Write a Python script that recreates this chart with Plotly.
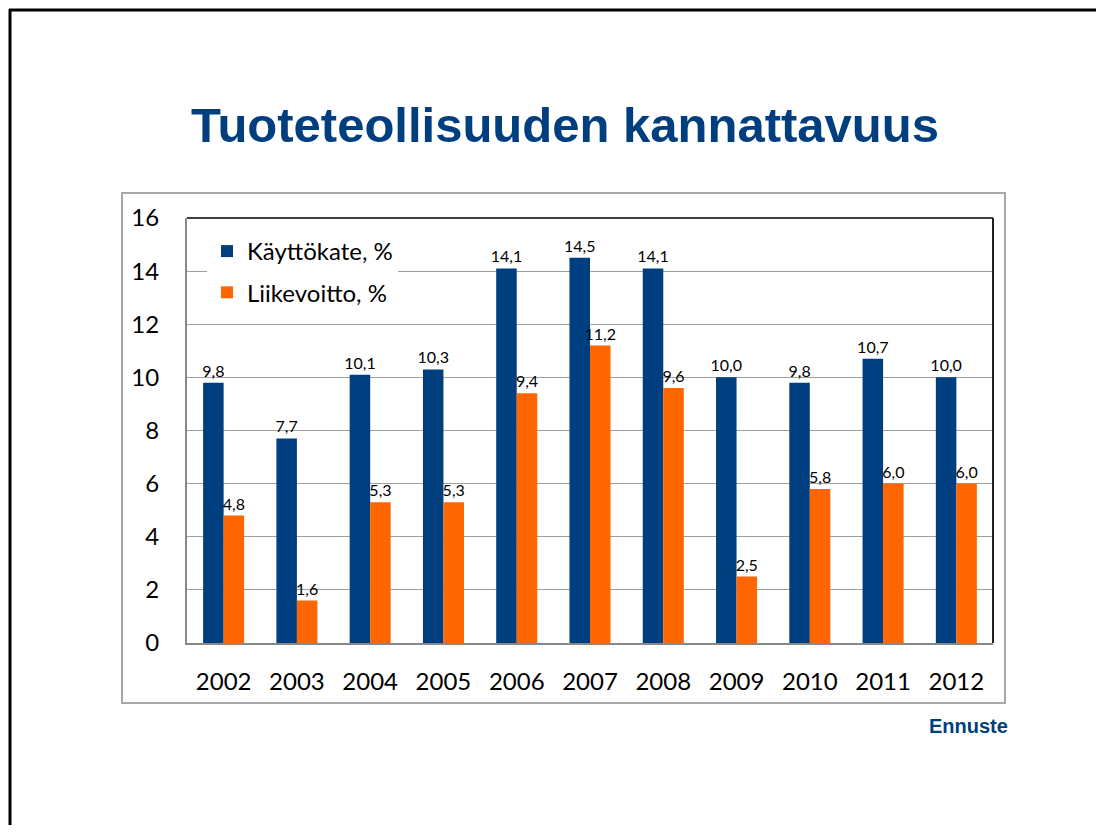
import plotly.graph_objects as go

years = ["2002", "2003", "2004", "2005", "2006", "2007", "2008", "2009", "2010", "2011", "2012"]
kayttokate = [9.8, 7.7, 10.1, 10.3, 14.1, 14.5, 14.1, 10.0, 9.8, 10.7, 10.0]
liikevoitto = [4.8, 1.6, 5.3, 5.3, 9.4, 11.2, 9.6, 2.5, 5.8, 6.0, 6.0]
series_names = ["Käyttökate, %", "Liikevoitto, %"]
colors = ["#003f7f", "#ff6600"]

# page has an 8px body margin, so the figure is 16px smaller than the window
OFF = 8
W, H = 1104 - 2 * OFF, 833 - 2 * OFF
FONT = "Lato, Open Sans, sans-serif"

def px(x):
    return (x - OFF) / W

def py(y):
    return 1 - (y - OFF) / H

def fmt(v):
    return f"{v:.1f}".replace(".", ",")

fig = go.Figure()
for i, (name, vals, col) in enumerate(zip(series_names, [kayttokate, liikevoitto], colors)):
    fig.add_trace(go.Bar(
        x=years, y=vals, name=name, marker_color=col, marker_line_width=0,
        legendgroup=f"g{i}",
        text=[fmt(v) for v in vals], textposition="outside",
        textfont=dict(family=FONT, size=16, color="black"),
        constraintext="none", cliponaxis=False,
    ))

fig.update_layout(
    width=W, height=H,
    margin=dict(l=0, r=0, t=0, b=0, autoexpand=False),
    paper_bgcolor="white", plot_bgcolor="white",
    barmode="group", bargap=0.44, bargroupgap=0,
    showlegend=True,
    legend=dict(x=px(207), y=py(229), xanchor="left", yanchor="top",
                bgcolor="white", font=dict(family=FONT, size=24, color="black"),
                itemsizing="constant", tracegroupgap=7),
    xaxis=dict(domain=[px(187), px(993)], showgrid=False, automargin=False,
               tickfont=dict(family=FONT, size=24, color="black"),
               showline=True, linecolor="#888888", linewidth=2,
               ticks="", ticklabelstandoff=16),
    yaxis=dict(domain=[py(643), py(218)], range=[0, 16], dtick=2, automargin=False,
               showgrid=True, gridcolor="#a0a0a0", gridwidth=1,
               tickfont=dict(family=FONT, size=24, color="black"),
               showline=True, linecolor="#888888", linewidth=2,
               ticks="", ticklabelstandoff=21, zeroline=False),
    title=dict(text="<b>Tuoteteollisuuden kannattavuus</b>",
               x=px(565), xanchor="center", y=py(125), yanchor="middle",
               font=dict(family="Liberation Sans, Arial, sans-serif", size=49, color="#003f7f")),
    shapes=[
        # chart frame
        dict(type="rect", xref="paper", yref="paper",
             x0=px(122), x1=px(1005), y0=py(703), y1=py(193),
             line=dict(color="#a8a8a8", width=2), layer="below"),
        # plot area top & right border
        dict(type="line", xref="paper", yref="paper",
             x0=px(187), x1=px(993), y0=py(218), y1=py(218),
             line=dict(color="#404040", width=2)),
        dict(type="line", xref="paper", yref="paper",
             x0=px(993), x1=px(993), y0=py(218), y1=py(643),
             line=dict(color="#202020", width=2)),
        # slide border (left & top)
        dict(type="line", xref="paper", yref="paper",
             x0=px(10), x1=px(10), y0=py(9), y1=0,
             line=dict(color="black", width=3)),
        dict(type="line", xref="paper", yref="paper",
             x0=px(9), x1=1, y0=py(10), y1=py(10),
             line=dict(color="black", width=3)),
    ],
    annotations=[
        dict(text="<b>Ennuste</b>", xref="paper", yref="paper",
             x=px(968), y=py(726), xanchor="center", yanchor="middle",
             showarrow=False,
             font=dict(family="Liberation Sans, Arial, sans-serif", size=20, color="#003f7f")),
    ],
)

fig.write_html("out.html")
